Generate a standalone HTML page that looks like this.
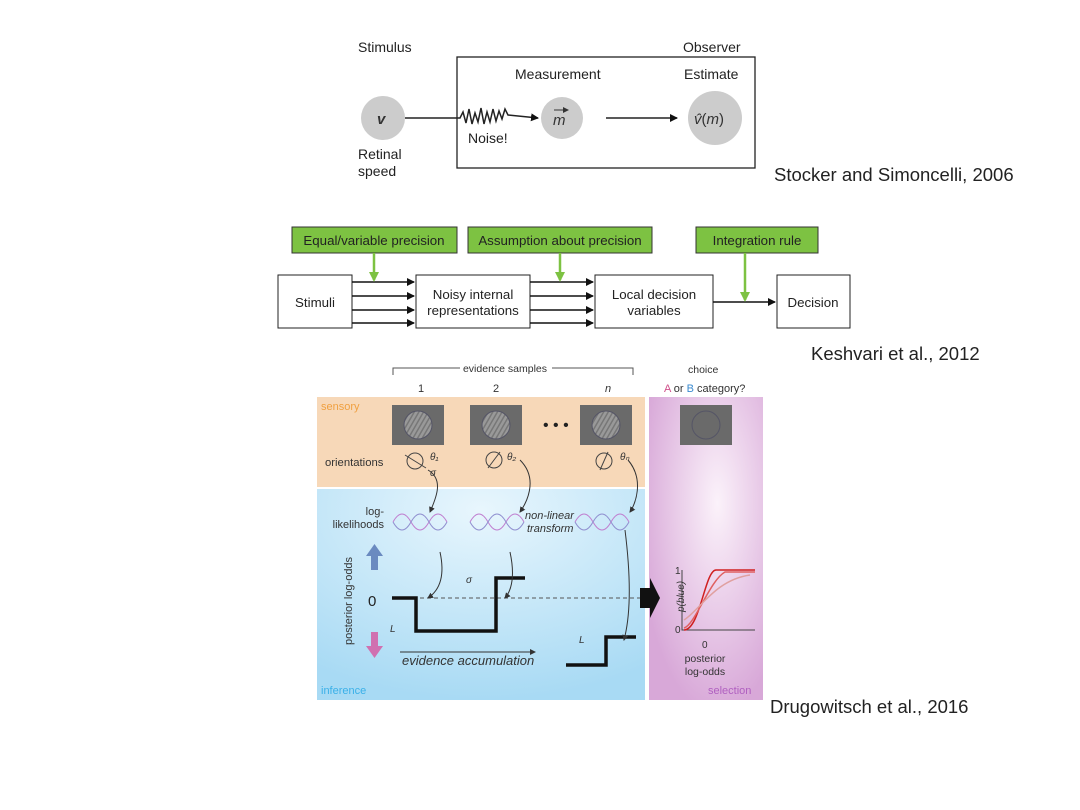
<!DOCTYPE html><html><head><style>
body{margin:0;width:1080px;height:810px;background:#fff;position:relative;font-family:"Liberation Sans",sans-serif;overflow:hidden}
</style></head><body>
<svg width="1080" height="810" style="position:absolute;left:0;top:0" font-family="Liberation Sans, sans-serif">
<defs>
<marker id="a" markerWidth="8" markerHeight="8" refX="7" refY="4" orient="auto" markerUnits="userSpaceOnUse"><path d="M0,0L8,4L0,8z" fill="#111"/></marker>
<marker id="g" markerWidth="10" markerHeight="10" refX="8" refY="5" orient="auto" markerUnits="userSpaceOnUse"><path d="M0,0L10,5L0,10z" fill="#7dc242"/></marker>
<marker id="s" markerWidth="6" markerHeight="6" refX="5" refY="3" orient="auto" markerUnits="userSpaceOnUse"><path d="M0,0L6,3L0,6z" fill="#333"/></marker>
<radialGradient id="pg" cx="0.6" cy="0.35" r="0.7"><stop offset="0" stop-color="#fbf2fa"/><stop offset="1" stop-color="#d8a8d8"/></radialGradient>
<radialGradient id="bg" cx="0.5" cy="0.1" r="0.9"><stop offset="0" stop-color="#e8f6fd"/><stop offset="1" stop-color="#a8daf4"/></radialGradient>
<pattern id="gr" width="4" height="4" patternUnits="userSpaceOnUse" patternTransform="rotate(30)"><rect width="4" height="4" fill="#999"/><rect width="1.5" height="4" fill="#777"/></pattern>
</defs>
<!-- top diagram -->
<g font-size="14" fill="#222">
<text x="358" y="52">Stimulus</text>
<text x="683" y="52">Observer</text>
<text x="515" y="79">Measurement</text>
<text x="684" y="79">Estimate</text>
<text x="358" y="159">Retinal</text>
<text x="358" y="176">speed</text>
<text x="468" y="143">Noise!</text>
</g>
<rect x="457" y="57" width="298" height="111" fill="none" stroke="#222" stroke-width="1.3"/>
<circle cx="383" cy="118" r="22" fill="#ccc"/>
<text x="377" y="124" font-size="15" font-style="italic" font-weight="bold" fill="#333">v</text>
<path d="M405,118 L460,118 l3,-6 3,11 3,-14 3,15 3,-11 3,9 3,-14 3,16 3,-12 3,10 3,-13 3,12 3,-10 3,8 3,-10 3,6 L538,118" fill="none" stroke="#222" stroke-width="1.5" marker-end="url(#a)"/>
<circle cx="562" cy="118" r="21" fill="#ccc"/>
<text x="553" y="125" font-size="15" font-style="italic" fill="#333">m</text>
<path d="M554,110 h14" stroke="#333" marker-end="url(#s)"/>
<line x1="606" y1="118" x2="677" y2="118" stroke="#222" stroke-width="1.5" marker-end="url(#a)"/>
<circle cx="715" cy="118" r="27" fill="#ccc"/>
<text x="694" y="124" font-size="15" fill="#333"><tspan font-style="italic">v̂</tspan>(<tspan font-style="italic">m</tspan>)</text>
<text x="774" y="181" font-size="18.5" fill="#222">Stocker and Simoncelli, 2006</text>
<!-- middle diagram -->
<g font-size="13.3" fill="#222">
<rect x="292" y="227" width="165" height="26" fill="#7dc242" stroke="#333"/>
<text x="374" y="245" text-anchor="middle">Equal/variable precision</text>
<rect x="468" y="227" width="184" height="26" fill="#7dc242" stroke="#333"/>
<text x="560" y="245" text-anchor="middle">Assumption about precision</text>
<rect x="696" y="227" width="122" height="26" fill="#7dc242" stroke="#333"/>
<text x="757" y="245" text-anchor="middle">Integration rule</text>
<rect x="278" y="275" width="74" height="53" fill="#fff" stroke="#222"/>
<text x="315" y="307" text-anchor="middle">Stimuli</text>
<rect x="416" y="275" width="114" height="53" fill="#fff" stroke="#222"/>
<text x="473" y="299" text-anchor="middle">Noisy internal</text><text x="473" y="315" text-anchor="middle">representations</text>
<rect x="595" y="275" width="118" height="53" fill="#fff" stroke="#222"/>
<text x="654" y="299" text-anchor="middle">Local decision</text><text x="654" y="315" text-anchor="middle">variables</text>
<rect x="777" y="275" width="73" height="53" fill="#fff" stroke="#222"/>
<text x="813" y="307" text-anchor="middle">Decision</text>
</g>
<g stroke="#111" stroke-width="1.5">
<line x1="352" y1="282" x2="414" y2="282" marker-end="url(#a)"/><line x1="352" y1="296" x2="414" y2="296" marker-end="url(#a)"/><line x1="352" y1="310" x2="414" y2="310" marker-end="url(#a)"/><line x1="352" y1="323" x2="414" y2="323" marker-end="url(#a)"/>
<line x1="530" y1="282" x2="593" y2="282" marker-end="url(#a)"/><line x1="530" y1="296" x2="593" y2="296" marker-end="url(#a)"/><line x1="530" y1="310" x2="593" y2="310" marker-end="url(#a)"/><line x1="530" y1="323" x2="593" y2="323" marker-end="url(#a)"/>
<line x1="713" y1="302" x2="775" y2="302" marker-end="url(#a)"/>
</g>
<g stroke="#7dc242" stroke-width="2.5">
<line x1="374" y1="253" x2="374" y2="280" marker-end="url(#g)"/>
<line x1="560" y1="253" x2="560" y2="280" marker-end="url(#g)"/>
<line x1="745" y1="253" x2="745" y2="300" marker-end="url(#g)"/>
</g>
<text x="811" y="360" font-size="18.5" fill="#222">Keshvari et al., 2012</text>
<!-- bottom figure -->
<rect x="317" y="397" width="328" height="90" fill="#f7d8b8"/>
<rect x="317" y="489" width="328" height="211" fill="url(#bg)"/>
<rect x="649" y="397" width="114" height="303" fill="url(#pg)"/>
<path d="M393,375 v-7 h240 v7" fill="none" stroke="#555"/>
<rect x="460" y="362" width="92" height="12" fill="#fff"/>
<text x="505" y="372" font-size="10.5" fill="#333" text-anchor="middle">evidence samples</text>
<text x="688" y="373" font-size="10.5" fill="#333">choice</text>
<g font-size="11" fill="#333"><text x="418" y="392">1</text><text x="493" y="392">2</text><text x="605" y="392" font-style="italic">n</text>
<text x="664" y="392"><tspan fill="#d0508a">A</tspan> or <tspan fill="#3a8ad0">B</tspan> category?</text></g>
<text x="321" y="410" font-size="11" fill="#f0a040">sensory</text>
<g fill="#6a6a6a"><rect x="392" y="405" width="52" height="40"/><rect x="470" y="405" width="52" height="40"/><rect x="580" y="405" width="52" height="40"/><rect x="680" y="405" width="52" height="40"/></g>
<g fill="url(#gr)" stroke="#556" stroke-width="1"><circle cx="418" cy="425" r="14"/><circle cx="496" cy="425" r="14"/><circle cx="606" cy="425" r="14"/><circle cx="706" cy="425" r="14" fill="none"/></g>
<text x="543" y="430" font-size="16" fill="#222">• • •</text>
<text x="325" y="466" font-size="11.3" fill="#333">orientations</text>
<g fill="none" stroke="#444"><circle cx="415" cy="461" r="8"/><circle cx="494" cy="460" r="8"/><circle cx="604" cy="461" r="8"/>
<line x1="405" y1="455" x2="426" y2="468"/><line x1="488" y1="468" x2="500" y2="452"/><line x1="600" y1="470" x2="608" y2="452"/></g>
<g font-size="10" font-style="italic" fill="#333"><text x="430" y="460">θ₁</text><text x="507" y="460">θ₂</text><text x="620" y="460">θₙ</text><text x="430" y="476">σ</text></g>
<g fill="none" stroke="#333" stroke-width="1"><path d="M428,470 C445,480 435,500 430,512" marker-end="url(#s)"/><path d="M520,460 C540,480 525,505 520,512" marker-end="url(#s)"/><path d="M628,460 C645,480 635,505 630,512" marker-end="url(#s)"/></g>
<g fill="none" stroke-width="1"><path d="M393,522 q9,-16 18,0 q9,16 18,0 q9,-16 18,0" stroke="#c080d0"/><path d="M393,522 q9,16 18,0 q9,-16 18,0 q9,16 18,0" stroke="#9090d0"/>
<path d="M470,522 q9,-16 18,0 q9,16 18,0 q9,-16 18,0" stroke="#c080d0"/><path d="M470,522 q9,16 18,0 q9,-16 18,0 q9,16 18,0" stroke="#9090d0"/>
<path d="M575,522 q9,-16 18,0 q9,16 18,0 q9,-16 18,0" stroke="#c080d0"/><path d="M575,522 q9,16 18,0 q9,-16 18,0 q9,16 18,0" stroke="#9090d0"/></g>
<g font-size="11" fill="#333" text-anchor="end"><text x="384" y="515">log-</text><text x="384" y="528">likelihoods</text></g>
<g font-size="11" font-style="italic" fill="#333"><text x="525" y="519">non-linear</text><text x="527" y="532">transform</text></g>
<rect x="371" y="556" width="7" height="14" fill="#6a8ac0"/><path d="M366,556 h17 l-8.5,-12z" fill="#6a8ac0"/>
<rect x="371" y="632" width="7" height="14" fill="#d070b0"/><path d="M366,646 h17 l-8.5,12z" fill="#d070b0"/>
<text x="352" y="645" font-size="11" fill="#333" transform="rotate(-90 352 645)">posterior log-odds</text>
<text x="368" y="606" font-size="15" fill="#222">0</text>
<line x1="392" y1="598" x2="640" y2="598" stroke="#555" stroke-dasharray="4,3"/>
<path d="M392,598 H416 V631 H496 V578 H525" fill="none" stroke="#111" stroke-width="3.5"/>
<path d="M566,665 H606 V637 H636" fill="none" stroke="#111" stroke-width="3.5"/>
<g fill="none" stroke="#333"><path d="M440,552 C445,575 440,590 428,598" marker-end="url(#s)"/><path d="M510,552 C515,575 512,590 505,598" marker-end="url(#s)"/><path d="M625,530 C630,570 632,610 624,640" marker-end="url(#s)"/></g>
<g font-size="10" font-style="italic" fill="#333"><text x="390" y="632">L</text><text x="579" y="643">L</text><text x="466" y="583">σ</text></g>
<line x1="400" y1="652" x2="535" y2="652" stroke="#333" marker-end="url(#s)"/>
<text x="402" y="665" font-size="13" font-style="italic" fill="#333">evidence accumulation</text>
<text x="321" y="694" font-size="11" fill="#3ab0e8">inference</text>
<path d="M640,588 h10 v-10 l10,20 -10,20 v-10 h-10z" fill="#111"/>
<path d="M682,570 V630 H755" fill="none" stroke="#444"/>
<g font-size="10" fill="#333"><text x="675" y="574">1</text><text x="675" y="633">0</text><text x="702" y="648">0</text></g>
<text x="684" y="612" font-size="10" font-style="italic" fill="#333" transform="rotate(-90 684 612)">p(blue)</text>
<g fill="none" stroke-width="1.5"><path d="M684,630 C700,630 705,570 716,570 H755" stroke="#d02020"/><path d="M684,628 C695,625 710,580 725,572 H755" stroke="#e06060"/><path d="M684,620 C700,610 715,580 750,575" stroke="#e0a0a0"/></g>
<g font-size="10.5" fill="#333" text-anchor="middle"><text x="705" y="662">posterior</text><text x="705" y="675">log-odds</text></g>
<text x="708" y="694" font-size="11" fill="#b060c0">selection</text>
<text x="770" y="713" font-size="18.5" fill="#222">Drugowitsch et al., 2016</text>
</svg>
</body></html>
